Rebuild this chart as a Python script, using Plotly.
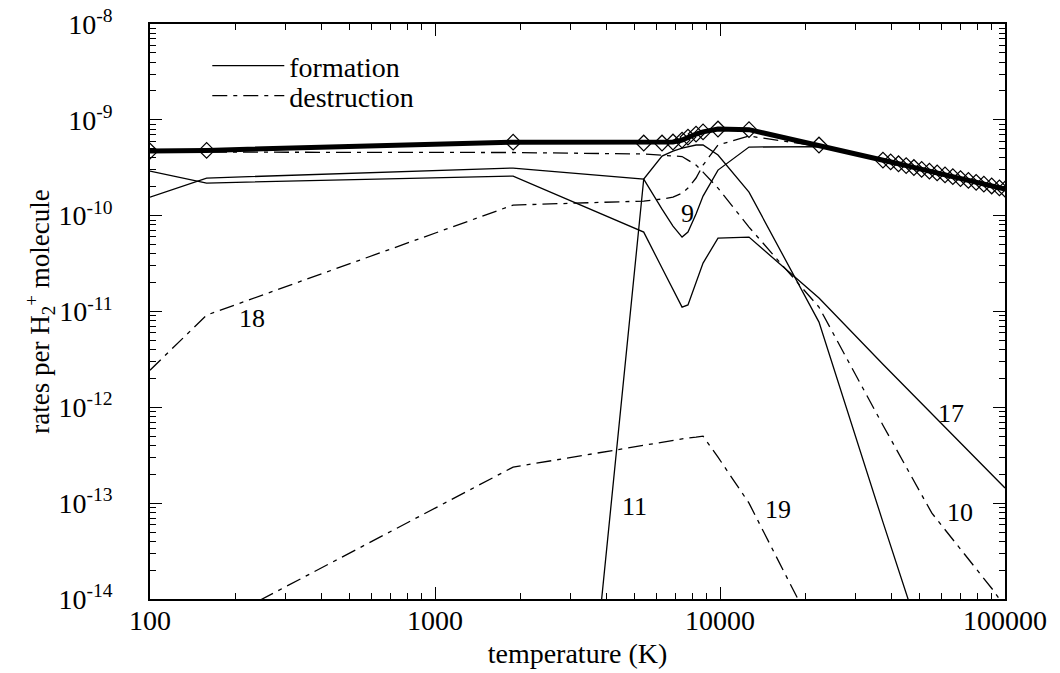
import math
import plotly.graph_objects as go

# ---------------- data ----------------
T_TOTAL = [100, 158, 1880, 5400, 6260, 6840, 7360, 7720, 8240, 8720, 9840, 12640, 22250,
           37300, 39700, 42300, 45000, 47900, 51000, 54300, 57800, 61600, 65600, 69800,
           74400, 79200, 84300, 89800, 95600, 100000]
R_TOTAL = [4.72e-10, 4.80e-10, 5.84e-10, 5.73e-10, 5.73e-10, 5.87e-10, 6.15e-10, 6.61e-10,
           7.11e-10, 7.48e-10, 8.02e-10, 7.90e-10, 5.46e-10,
           3.80e-10, 3.64e-10, 3.48e-10, 3.33e-10, 3.18e-10, 3.04e-10, 2.91e-10, 2.79e-10,
           2.66e-10, 2.55e-10, 2.44e-10, 2.33e-10, 2.23e-10, 2.13e-10, 2.04e-10, 1.95e-10, 1.89e-10]

T_9 = [100, 158, 1880, 5400, 6260, 6840, 7360, 7720, 8240, 8720, 9840, 12640, 22250, 37300, 100000]
R_9 = [1.56e-10, 2.47e-10, 3.14e-10, 2.41e-10, 1.17e-10, 7.79e-11, 5.98e-11, 6.74e-11,
       1.04e-10, 1.60e-10, 2.99e-10, 5.20e-10, 5.25e-10, 3.72e-10, 1.86e-10]

T_17 = [100, 158, 1880, 5400, 6260, 6840, 7360, 7720, 8240, 8720, 9840, 12640, 22250, 37300, 100000]
R_17 = [2.92e-10, 2.19e-10, 2.59e-10, 6.74e-11, 2.84e-11, 1.67e-11, 1.11e-11, 1.17e-11,
        1.98e-11, 3.20e-11, 5.84e-11, 5.98e-11, 1.38e-11, 2.82e-12, 1.44e-13]

T_11 = [1880, 5400, 6260, 6840, 7360, 7720, 8240, 8720, 9840, 12640, 22250, 37300, 100000]
R_11 = [6.0e-24, 2.41e-10, 4.19e-10, 4.72e-10, 5.08e-10, 5.26e-10, 5.46e-10, 5.46e-10,
        4.29e-10, 1.76e-10, 7.75e-12, 6.34e-14, 8.0e-18]

T_10 = [100, 158, 1880, 5400, 6260, 6840, 7360, 7720, 8240, 8720, 9840, 12640, 22250,
        37300, 55400, 90800, 100000]
R_10 = [4.61e-10, 4.61e-10, 4.56e-10, 4.40e-10, 4.29e-10, 4.24e-10, 4.14e-10, 3.80e-10,
        3.37e-10, 2.85e-10, 1.94e-10, 7.60e-11, 1.11e-11, 6.51e-13, 7.86e-14, 1.24e-14, 8.2e-15]

T_18 = [100, 158, 1880, 5400, 6260, 6840, 7360, 7720, 8240, 8720, 9840, 12640, 22250, 37300, 100000]
R_18 = [2.44e-12, 9.17e-12, 1.29e-10, 1.42e-10, 1.49e-10, 1.56e-10, 1.72e-10, 1.94e-10,
        2.47e-10, 3.37e-10, 5.46e-10, 6.77e-10, 5.30e-10, 3.70e-10, 1.85e-10]

T_19 = [100, 158, 1880, 5400, 6260, 6840, 7360, 7720, 8240, 8720, 9840, 12640, 22250]
R_19 = [2.41e-15, 4.95e-15, 2.38e-13, 4.03e-13, 4.34e-13, 4.55e-13, 4.66e-13, 4.79e-13,
        4.89e-13, 5.00e-13, 3.02e-13, 1.00e-13, 3.7e-15]

LABELS = ["9", "18", "11", "19", "17", "10"]
LABEL_T = [7720, 228, 5000, 16000, 64700, 69500]
LABEL_R = [1.06e-10, 8.5e-12, 9.3e-14, 8.6e-14, 8.7e-13, 7.9e-14]

Y_TICKS = [1e-14, 1e-13, 1e-12, 1e-11, 1e-10, 1e-9, 1e-8]
Y_TICKTEXT = ["10<sup>-14</sup>", "10<sup>-13</sup>", "10<sup>-12</sup>", "10<sup>-11</sup>",
              "10<sup>-10</sup>", "10<sup>-9</sup>", "10<sup>-8</sup>"]
X_TICKS = [100, 1000, 10000, 100000]
X_TICKTEXT = ["100", "1000", "10000", "100000"]

# ---------------- styles ----------------
FONT = "Liberation Serif, Times New Roman, serif"
DASHDOT = "15px,6px,4px,6px"
THIN = 1.3

fig = go.Figure()

def add_line(T, R, dash, name=None, legend=None):
    fig.add_trace(go.Scatter(
        x=T, y=R, mode="lines", name=name, showlegend=legend is not None,
        legend=legend if legend else "legend",
        line=dict(color="black", width=THIN, dash=dash),
        hoverinfo="skip"))

add_line(T_9, R_9, "solid", "formation", "legend")
add_line(T_10, R_10, DASHDOT, "destruction", "legend2")
add_line(T_17, R_17, "solid")
add_line(T_11, R_11, "solid")
add_line(T_18, R_18, DASHDOT)
add_line(T_19, R_19, DASHDOT)

fig.add_trace(go.Scatter(
    x=T_TOTAL, y=R_TOTAL, mode="lines+markers", showlegend=False,
    line=dict(color="black", width=5),
    marker=dict(symbol="diamond-open", size=12, color="black", line=dict(width=1.2, color="black")),
    hoverinfo="skip"))

for txt, t, r in zip(LABELS, LABEL_T, LABEL_R):
    fig.add_annotation(x=math.log10(t), y=math.log10(r), text=txt, showarrow=False,
                       xref="x", yref="y", font=dict(family=FONT, size=26, color="black"))

axis_common = dict(
    showline=True, linecolor="black", linewidth=1.5, mirror="ticks",
    ticks="inside", ticklen=12, tickwidth=1.2, tickcolor="black",
    showgrid=False, zeroline=False, automargin=False,
    tickfont=dict(family=FONT, size=28, color="black"),
    minor=dict(ticks="inside", ticklen=6, tickwidth=1, tickcolor="black",
               showgrid=False, dtick="D1"),
)

fig.update_xaxes(type="log", range=[2, 5], tickvals=X_TICKS, ticktext=X_TICKTEXT,
                 title=dict(text="temperature (K)", font=dict(family=FONT, size=28, color="black"), standoff=8),
                 ticklabelstandoff=-4, **axis_common)
fig.update_yaxes(type="log", range=[-14, -8], tickvals=Y_TICKS, ticktext=Y_TICKTEXT,
                 title=dict(text="rates per H<sub>2</sub><sup>+</sup> molecule",
                            font=dict(family=FONT, size=27, color="black"), standoff=0),
                 ticklabelstandoff=30, **axis_common)

leg_common = dict(x=0.067, xanchor="left", yanchor="middle",
                  bgcolor="rgba(0,0,0,0)", itemwidth=72,
                  font=dict(family=FONT, size=28, color="black"))

fig.update_layout(
    width=1060, height=673,
    margin=dict(l=150, r=55, t=24, b=74),
    paper_bgcolor="white", plot_bgcolor="white",
    font=dict(family=FONT, color="black"),
    legend=dict(y=0.927, **leg_common),
    legend2=dict(y=0.8748, **leg_common),
)

fig.write_html("out.html", config={"displayModeBar": False},
               post_script="document.body.style.margin='0px';document.body.style.overflow='hidden';")
